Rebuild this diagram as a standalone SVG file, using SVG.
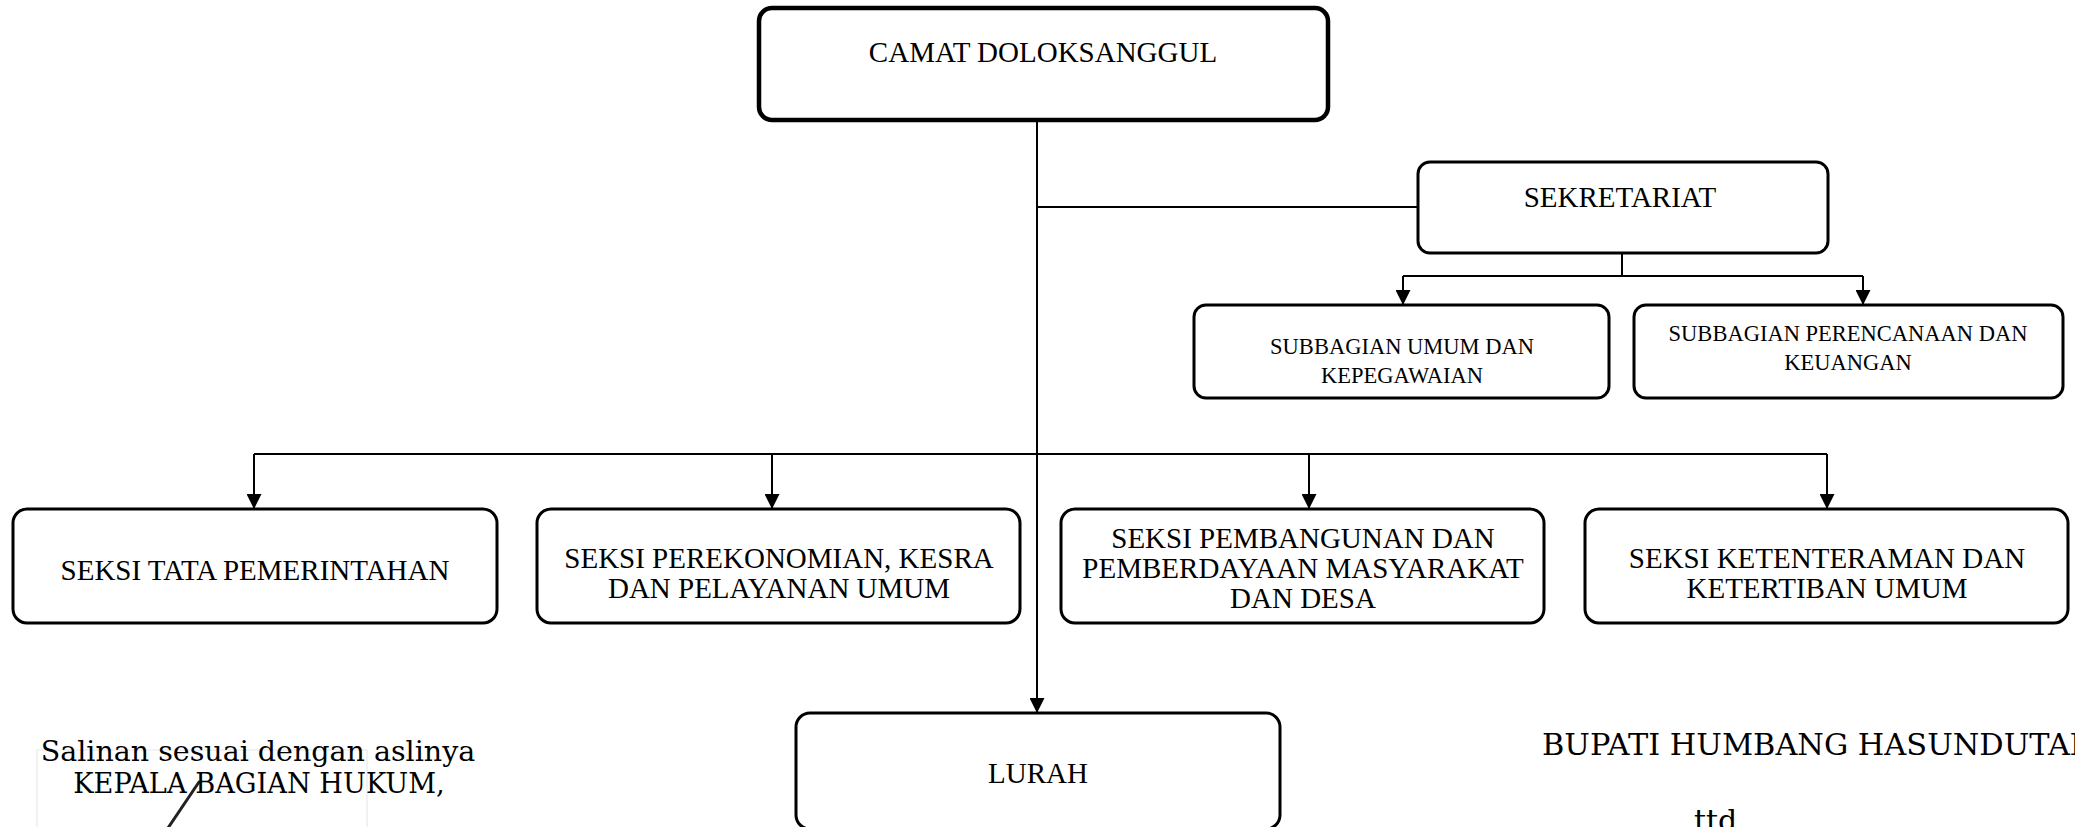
<svg xmlns="http://www.w3.org/2000/svg" width="2075" height="827" viewBox="0 0 2075 827">
<style>
.box{fill:#fff;stroke:#000;stroke-width:3}
.thick{stroke-width:4.5}
.t{font-family:"Liberation Serif","Times New Roman",serif;font-size:29px;fill:#000;text-anchor:middle}
.s{font-size:22.5px}
.b{font-family:"DejaVu Serif",serif;fill:#000}
.c{fill:none;stroke:#000;stroke-width:2}
</style>
<defs>
<marker id="arr" markerUnits="userSpaceOnUse" markerWidth="15" markerHeight="15" refX="15" refY="7.5" orient="auto">
<path d="M0,0 L15,7.5 L0,15 z" fill="#000"/>
</marker>
</defs>
<rect width="2075" height="827" fill="#fff"/>
<g id="connectors">
<path class="c" d="M1037 120 V713" marker-end="url(#arr)"/>
<path class="c" d="M1037 207 H1418"/>
<path class="c" d="M1622 253 V276 M1403 276 H1863"/>
<path class="c" d="M1403 276 V305" marker-end="url(#arr)"/>
<path class="c" d="M1863 276 V305" marker-end="url(#arr)"/>
<path class="c" d="M254 454 H1827"/>
<path class="c" d="M254 454 V509" marker-end="url(#arr)"/>
<path class="c" d="M772 454 V509" marker-end="url(#arr)"/>
<path class="c" d="M1309 454 V509" marker-end="url(#arr)"/>
<path class="c" d="M1827 454 V509" marker-end="url(#arr)"/>
</g>
<g id="camat">
<rect class="box thick" x="759" y="8" width="569" height="112" rx="13"/>
<text class="t" x="1043" y="62" font-size="28">CAMAT DOLOKSANGGUL</text>
</g>
<g id="sekretariat">
<rect class="box" x="1418" y="162" width="410" height="91" rx="12"/>
<text class="t" x="1620" y="207">SEKRETARIAT</text>
</g>
<g id="subbagian-umum">
<rect class="box" x="1194" y="305" width="415" height="93" rx="12"/>
<text class="t s" x="1402" y="354">SUBBAGIAN UMUM DAN</text>
<text class="t s" x="1402" y="383">KEPEGAWAIAN</text>
</g>
<g id="subbagian-perencanaan">
<rect class="box" x="1634" y="305" width="429" height="93" rx="12"/>
<text class="t s" x="1848" y="341">SUBBAGIAN PERENCANAAN DAN</text>
<text class="t s" x="1848" y="370">KEUANGAN</text>
</g>
<g id="seksi-tata">
<rect class="box" x="13" y="509" width="484" height="114" rx="14"/>
<text class="t" x="255" y="580">SEKSI TATA PEMERINTAHAN</text>
</g>
<g id="seksi-perekonomian">
<rect class="box" x="537" y="509" width="483" height="114" rx="14"/>
<text class="t" x="779" y="568">SEKSI PEREKONOMIAN, KESRA</text>
<text class="t" x="779" y="598">DAN PELAYANAN UMUM</text>
</g>
<g id="seksi-pembangunan">
<rect class="box" x="1061" y="509" width="483" height="114" rx="14"/>
<text class="t" x="1303" y="548">SEKSI PEMBANGUNAN DAN</text>
<text class="t" x="1303" y="578">PEMBERDAYAAN MASYARAKAT</text>
<text class="t" x="1303" y="608">DAN DESA</text>
</g>
<g id="seksi-ketenteraman">
<rect class="box" x="1585" y="509" width="483" height="114" rx="14"/>
<text class="t" x="1827" y="568">SEKSI KETENTERAMAN DAN</text>
<text class="t" x="1827" y="598">KETERTIBAN UMUM</text>
</g>
<g id="lurah">
<rect class="box" x="796" y="713" width="484" height="116" rx="14"/>
<text class="t" x="1038" y="783" font-size="28.5">LURAH</text>
</g>
<g id="signature-left">
<rect x="37" y="750" width="330" height="90" fill="none" stroke="#eeeeee" stroke-width="1.5"/>
<line x1="168" y1="828" x2="199" y2="782" stroke="#222" stroke-width="3" stroke-linecap="round"/>
<text class="b" x="258" y="761" font-size="28.5" text-anchor="middle">Salinan sesuai dengan aslinya</text>
<text class="b" x="259" y="793" font-size="27.2" text-anchor="middle">KEPALA BAGIAN HUKUM,</text>
</g>
<g id="signature-right">
<text class="b" x="1542" y="755" font-size="30.4">BUPATI HUMBANG HASUNDUTAN</text>
<text class="b" x="1694" y="831" font-size="30">ttd</text>
</g>
</svg>
